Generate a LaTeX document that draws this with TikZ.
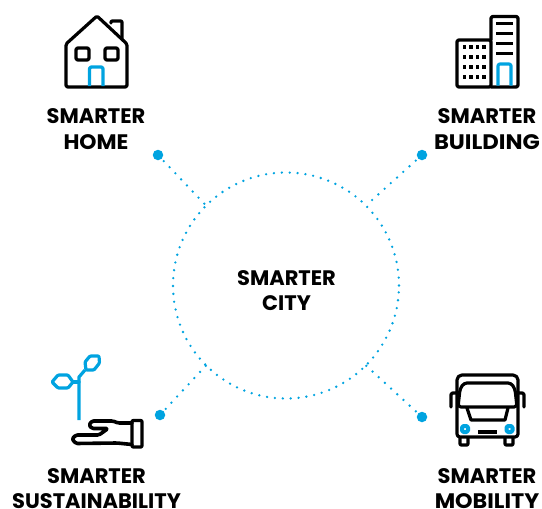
\documentclass[tikz,border=0pt]{standalone}
\usepackage{fontspec}
\usepackage{graphicx}
\setmainfont{Poppins}
\definecolor{cblue}{HTML}{00A3E0}
\tikzset{
  lbl/.style={font=\fontsize{21}{25.5}\selectfont\bfseries, align=center, text=black, inner sep=0pt},
  ink/.style={draw=black, line width=3.2pt, line join=round, line cap=round},
  blu/.style={draw=cblue, line width=3.2pt, line join=round, line cap=round},
  hub/.style={circle, fill=cblue, minimum size=10.5pt, inner sep=0pt},
  dots/.style={draw=cblue, line width=2.6pt, line cap=round, dash pattern=on 0pt off 8.4pt},
}
\begin{document}
\begin{tikzpicture}[x=1pt,y=-1pt]
\useasboundingbox (0,0) rectangle (542,509);
% centre
\node[circle, minimum size=226pt, inner sep=0pt] (ring) at (286,285.5) {};
\draw[draw=cblue, line width=2.6pt, line cap=round, dash pattern=on 0pt off 7.9pt] (ring.center) circle[radius=113pt];
\node[lbl] (city) at (286.5,290.5) {SMARTER\\CITY};
% labels
\node[lbl] (home) at (96,129) {SMARTER\\\scalebox{1.04}[1]{HOME}};
\node[lbl] (building) at (487,129) {SMARTER\\\scalebox{1.08}[1]{BUILDING}};
\node[lbl] (sust) at (96.5,488.5) {SMARTER\\SUSTAINABILITY};
\node[lbl] (mob) at (487,488.5) {SMARTER\\\scalebox{1.06}[1]{MOBILITY}};
% hubs
\node[hub] (h1) at (158,155) {};
\node[hub] (h2) at (422,155) {};
\node[hub] (h3) at (160,415) {};
\node[hub] (h4) at (422,417) {};
\draw[dots] (h1.center) -- (ring.135);
\draw[dots] (h2.center) -- (ring.45);
\draw[dots] (h3.center) -- (ring.225);
\draw[dots] (h4.center) -- (ring.-45);
% house
\draw[ink, rounded corners=1.5pt] (66,87) -- (66,44) -- (97,16) -- (127,44) -- (127,87) -- cycle;
\draw[ink, rounded corners=1pt] (111,23) -- (111,21) -- (122,21) -- (122,39);
\draw[ink, rounded corners=1.5pt] (76,48) rectangle (89,60);
\draw[ink, rounded corners=1.5pt] (105,48) rectangle (118,60);
\draw[blu, line cap=butt, rounded corners=1.5pt] (89.5,86) -- (89.5,67) -- (103,67) -- (103,86);
% building
\draw[ink, rounded corners=1.5pt] (457,40) rectangle (491,87);
\draw[ink, rounded corners=1.5pt] (491,40) -- (491,16.5) -- (518,16.5) -- (518,87) -- (491,87);
\foreach \yy in {23.5,33.5,43.5,53.5} \draw[ink, line cap=butt] (496,\yy) -- (513,\yy);
\foreach \xx in {464.5,471,477.5,484} \foreach \yy in {47,57,67,77}
  \fill (\xx-1.7,\yy-1.7) rectangle (\xx+1.7,\yy+1.7);
\draw[blu, line cap=butt, rounded corners=2pt] (498,85.5) -- (498,64) -- (511,64) -- (511,85.5);
% sprout
\draw[blu, line cap=butt] (79,420) -- (79,377) -- (85,370);
\draw[blu] (79,382) -- (73,382);
\draw[blu, rounded corners=1pt] (52,382) -- (58,375) -- (68,375) -- (73,382) -- (68,388) -- (58,388) -- cycle;
\draw[blu, rounded corners=1pt] (86,370) -- (85,362) -- (90,356) -- (99,356) -- (99.5,363) -- (94,370) -- cycle;
% hand
\draw[ink, rounded corners=1pt] (132,420.5) rectangle (142,447);
\draw[ink, line width=3.6pt, rounded corners=1.5pt] (132,423) -- (118,423) -- (113,421) -- (92,421) -- (89,425) -- (92,428.5) -- (108,428.5) -- (99,435) -- (76,435) -- (72,439) -- (76,443.5) -- (117,443) -- (132,444.5);
% bus
\draw[ink, rounded corners=5pt] (457,392) -- (457,375) -- (518,375) -- (518,392);
\draw[ink, rounded corners=3pt] (457,392) -- (457,437) -- (518,437) -- (518,392);
\draw[ink, rounded corners=3pt] (458,407) -- (460,389) -- (464,383) -- (511,383) -- (515,389) -- (517,407) -- cycle;
\draw[ink] (467,408) -- (471,420) -- (505,420) -- (508,408);
\draw[ink, rounded corners=1.5pt] (457,393) -- (451,393) -- (451,407);
\draw[ink, rounded corners=1.5pt] (518,393) -- (524,393) -- (524,407);
\draw[ink, rounded corners=1pt] (460,438) -- (460,445) -- (468,445) -- (468,438);
\draw[ink, rounded corners=1pt] (505,438) -- (505,445) -- (513,445) -- (513,438);
\draw[ink, line cap=butt] (478,432) -- (497,432);
\draw[blu, line width=4pt, rounded corners=1.5pt] (462,426) rectangle (468,432);
\draw[blu, line width=4pt, rounded corners=1.5pt] (506.5,426) rectangle (512.5,432);
\end{tikzpicture}
\end{document}
